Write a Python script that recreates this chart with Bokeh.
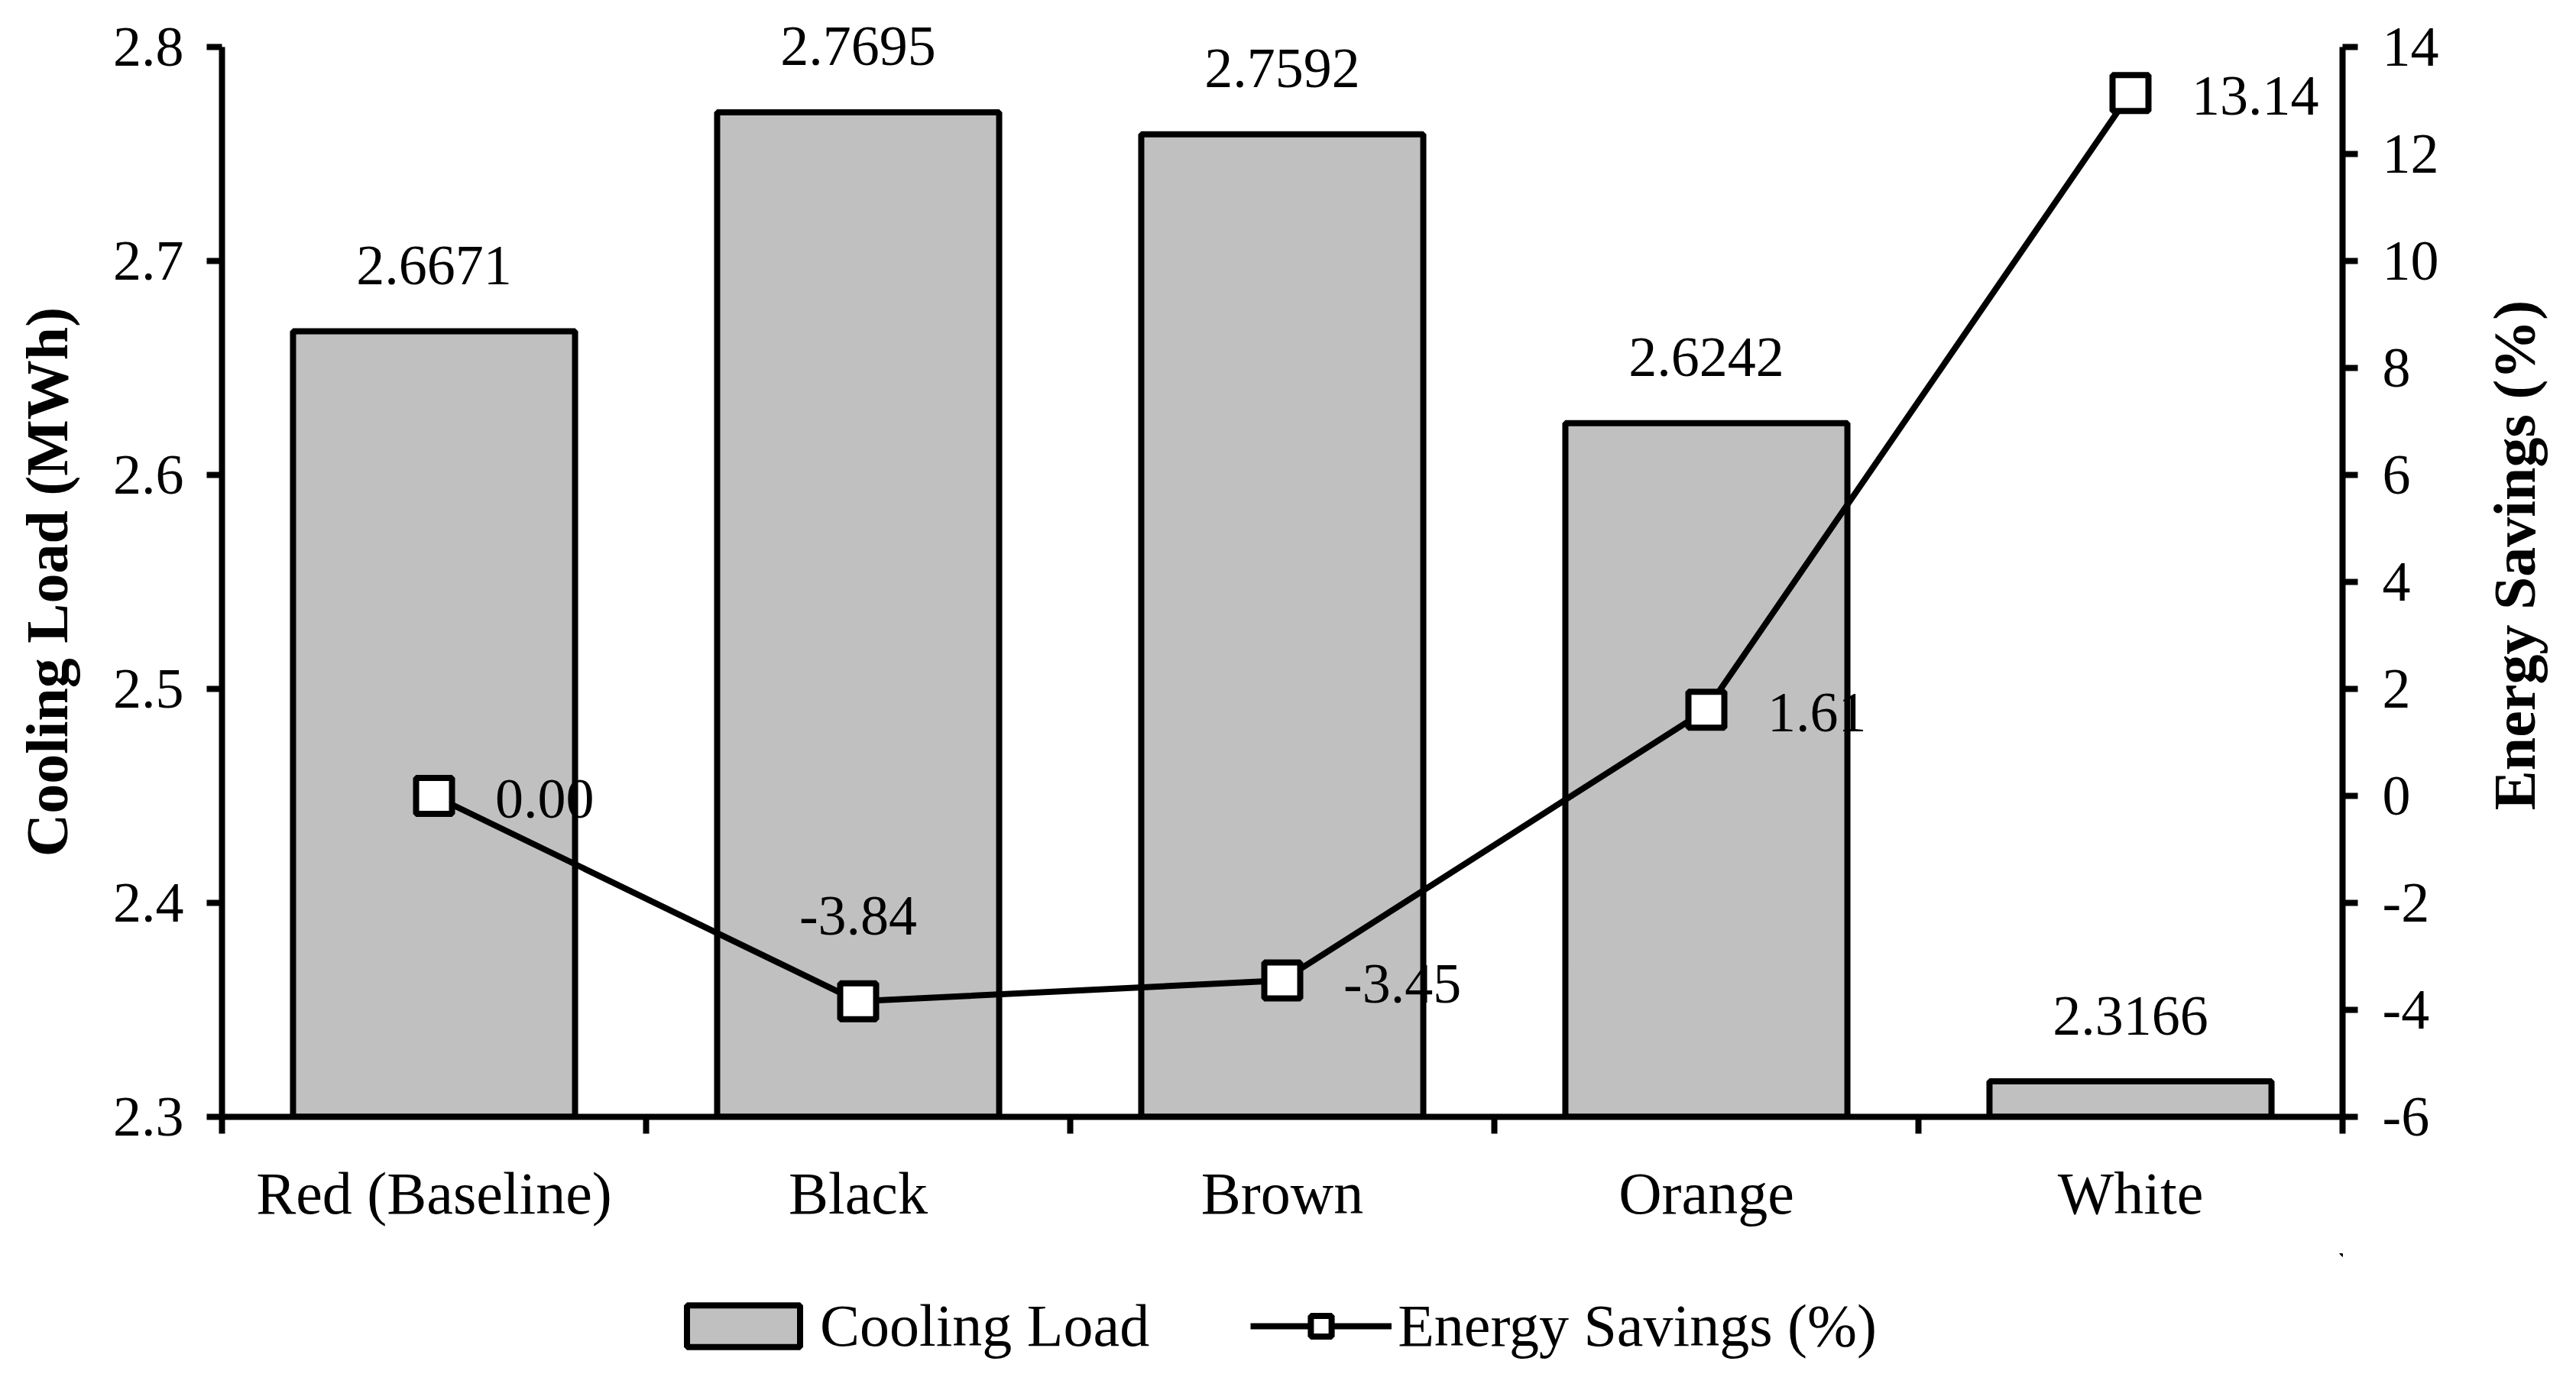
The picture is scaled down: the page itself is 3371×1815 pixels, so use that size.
import math
from bokeh.plotting import figure
from bokeh.layouts import column
from bokeh.models import (Range1d, LinearAxis, FixedTicker, ColumnDataSource,
                          Legend, LegendItem)
from bokeh.core.properties import value
from bokeh.embed import file_html
from bokeh.resources import INLINE

categories = ["Red (Baseline)", "Black", "Brown", "Orange", "White"]
cooling_load = [2.6671, 2.7695, 2.7592, 2.6242, 2.3166]
energy_savings = [0.00, -3.84, -3.45, 1.61, 13.14]
load_labels = ["2.6671", "2.7695", "2.7592", "2.6242", "2.3166"]
savings_labels = ["0.00", "-3.84", "-3.45", "1.61", "13.14"]
left_ticks = [2.3, 2.4, 2.5, 2.6, 2.7, 2.8]
right_ticks = [-6, -4, -2, 0, 2, 4, 6, 8, 10, 12, 14]

FONT = "Liberation Serif"
BAR_FILL = "#c0c0c0"
LW = 8
n = len(categories)
xc = [i + 0.5 for i in range(n)]

p = figure(width=3355, height=1640, output_backend="svg", toolbar_location=None,
           x_range=Range1d(0, n), y_range=Range1d(2.3, 2.8),
           min_border_left=290, min_border_right=290, min_border_top=61, min_border_bottom=179)
p.extra_y_ranges = {"pct": Range1d(-6, 14)}
p.outline_line_color = None
p.xgrid.visible = False
p.ygrid.visible = False

# x axis: labels at centres, ticks at category boundaries (minor ticks)
xa = p.xaxis[0]
xa.ticker = FixedTicker(ticks=xc, minor_ticks=list(range(n + 1)))
xa.major_label_overrides = {x: c for x, c in zip(xc, categories)}
xa.major_tick_out = 0
xa.major_tick_in = 0
xa.minor_tick_out = 22
xa.minor_tick_in = 0
xa.minor_tick_line_width = LW
xa.minor_tick_line_color = "black"
xa.axis_line_width = LW
xa.axis_line_color = "black"
xa.major_label_standoff = 34
xa.major_label_text_font = FONT
xa.major_label_text_font_size = "78px"
xa.major_label_text_color = "black"

ya = p.yaxis[0]
ya.ticker = FixedTicker(ticks=left_ticks)
ya.major_tick_out = 20
ya.major_tick_in = 0
ya.major_tick_line_width = LW
ya.minor_tick_out = 0
ya.minor_tick_in = 0
ya.axis_line_width = LW
ya.major_label_standoff = 30
ya.major_label_text_font = FONT
ya.major_label_text_font_size = "74px"
ya.major_label_text_color = "black"
ya.axis_label = "Cooling Load (MWh)"
ya.axis_label_text_font = FONT
ya.axis_label_text_font_style = "bold"
ya.axis_label_text_font_size = "78px"
ya.axis_label_text_color = "black"
ya.axis_label_standoff = 40

ra = LinearAxis(y_range_name="pct", ticker=FixedTicker(ticks=right_ticks))
ra.major_label_overrides = {t: str(t) for t in right_ticks}
ra.major_tick_out = 20
ra.major_tick_in = 0
ra.major_tick_line_width = LW
ra.minor_tick_out = 0
ra.minor_tick_in = 0
ra.axis_line_width = LW
ra.major_label_standoff = 32
ra.major_label_text_font = FONT
ra.major_label_text_font_size = "74px"
ra.major_label_text_color = "black"
p.add_layout(ra, "right")

src = ColumnDataSource(dict(x=xc, load=cooling_load, pct=energy_savings,
                            load_lab=load_labels, pct_lab=savings_labels))

bar_style = dict(fill_color=BAR_FILL, line_color="black", line_width=LW)
line_style = dict(line_color="black", line_width=LW)
mark_style = dict(marker="square", fill_color="white", line_color="black", line_width=LW)

bars = p.vbar(x="x", top="load", bottom=2.3, width=0.665, source=src, **bar_style)
line = p.line(x="x", y="pct", source=src, y_range_name="pct", **line_style)
marks = p.scatter(x="x", y="pct", source=src, y_range_name="pct", size=47, **mark_style)

# value labels (overlay level so they are not clipped at the frame edge)
p.text(x="x", y="load", text="load_lab", source=src, level="overlay",
       text_align="center", text_baseline="middle", y_offset=-86,
       text_font=value(FONT), text_font_size="74px", text_color="black")

above_idx = [1]
right_idx = [i for i in range(n) if i not in above_idx]
src_above = ColumnDataSource(dict(x=[xc[i] for i in above_idx],
                                  pct=[energy_savings[i] for i in above_idx],
                                  lab=[savings_labels[i] for i in above_idx]))
src_right = ColumnDataSource(dict(x=[xc[i] for i in right_idx],
                                  pct=[energy_savings[i] for i in right_idx],
                                  lab=[savings_labels[i] for i in right_idx]))
p.text(x="x", y="pct", text="lab", source=src_above, y_range_name="pct", level="overlay",
       text_align="center", text_baseline="middle", y_offset=-112,
       text_font=value(FONT), text_font_size="74px", text_color="black")
p.text(x="x", y="pct", text="lab", source=src_right, y_range_name="pct", level="overlay",
       text_align="left", text_baseline="middle", x_offset=80, y_offset=4,
       text_font=value(FONT), text_font_size="74px", text_color="black")

# right axis title, reading bottom-to-top like the left one
p.text(x=[5.405], y=[4.5], text=["Energy Savings (%)"], y_range_name="pct", level="overlay",
       angle=math.pi / 2, text_align="center", text_baseline="middle",
       text_font=value(FONT), text_font_style="bold", text_font_size="78px",
       text_color="black")

# legend strip below the chart: same data & styles, ranges chosen so the marks stay out of view
lg = figure(width=3355, height=159, output_backend="svg", toolbar_location=None,
            x_range=Range1d(-21, -20), y_range=Range1d(-41, -40),
            x_axis_location=None, y_axis_location=None,
            min_border_left=0, min_border_right=0, min_border_top=0, min_border_bottom=0)
lg.xgrid.visible = False
lg.ygrid.visible = False
lg.outline_line_color = None
lg_bar = lg.vbar(x="x", top="load", bottom=2.3, width=0.665, source=src, **bar_style)
lg_line = lg.line(x="x", y="pct", source=src, **line_style)
lg_mark = lg.scatter(x="x", y="pct", source=src, size=47, **mark_style)
legend = Legend(items=[LegendItem(label="Cooling Load", renderers=[lg_bar]),
                       LegendItem(label="Energy Savings (%)", renderers=[lg_line, lg_mark])],
                orientation="horizontal", location=(590, 19),
                glyph_width=185, glyph_height=68, label_height=68, label_standoff=8,
                spacing=132,
                label_text_font=FONT, label_text_font_size="78px", label_text_color="black",
                border_line_color=None, background_fill_alpha=0, margin=0, padding=0)
lg.add_layout(legend, "center")

layout = column(p, lg, spacing=0)
open("out.html", "w").write(file_html(layout, INLINE))
